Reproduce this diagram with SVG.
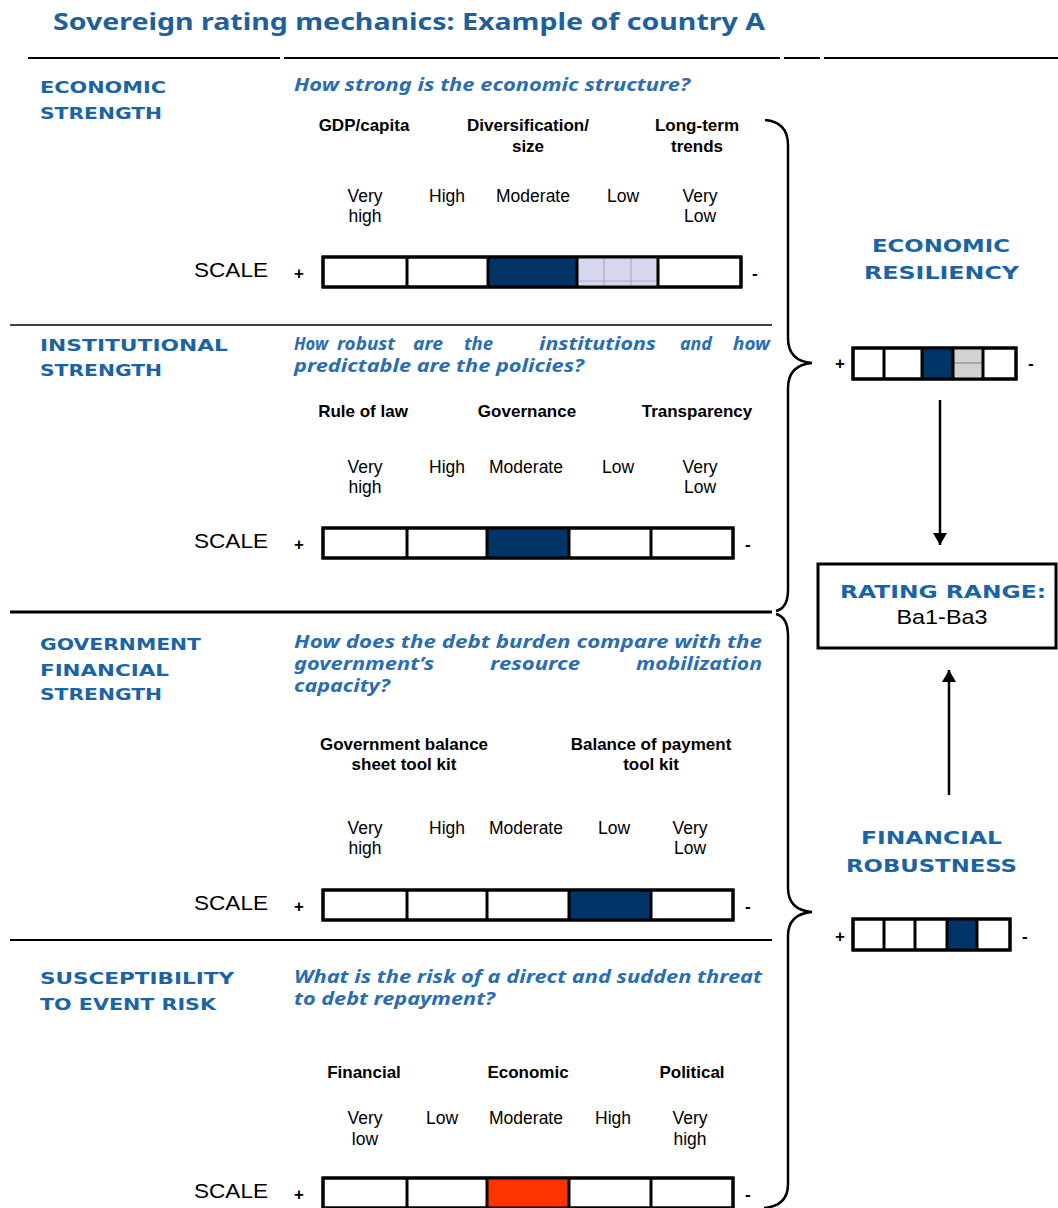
<svg xmlns="http://www.w3.org/2000/svg" width="1058" height="1208" viewBox="0 0 1058 1208">
<style>
.title{font-family:"Noto Sans","DejaVu Sans",sans-serif;font-weight:700;font-size:24px;fill:#1f5f9c}
.sec{font-family:"DejaVu Sans",Verdana,sans-serif;font-weight:700;font-size:16.5px;fill:#1a64a6}
.rsec{font-family:"DejaVu Sans",Verdana,sans-serif;font-weight:700;font-size:18.5px;fill:#1a64a6}
.q{font-family:"Noto Sans","Open Sans",sans-serif;font-weight:700;font-style:italic;font-size:18px;fill:#2a6db0}
.crit{font-family:"Liberation Sans",Arial,sans-serif;font-weight:700;font-size:17px;fill:#000;text-anchor:middle}
.lvl{font-family:"Liberation Sans",Arial,sans-serif;font-size:17.5px;fill:#000;text-anchor:middle}
.scale{font-family:"Liberation Sans",Arial,sans-serif;font-size:21px;fill:#000}
.pm{font-family:"Liberation Sans",Arial,sans-serif;font-weight:700;font-size:17px;fill:#000}
.bar{fill:#fff;stroke:#000;stroke-width:3}
.div{stroke:#000;stroke-width:3}
.navy{fill:#003366}
.rule{stroke:#000;fill:none}
.brace{fill:none;stroke:#000;stroke-width:2.5}
.conn{stroke:#000;stroke-width:2.5;fill:none}
.ba{font-family:"Liberation Sans",Arial,sans-serif;font-size:21px;fill:#000;text-anchor:middle}
</style>
<defs>
<marker id="ah" viewBox="0 0 12 14" refX="12" refY="7" markerWidth="12" markerHeight="14" markerUnits="userSpaceOnUse" orient="auto">
<path d="M0,0 L12,7 L0,14 Z" fill="#000"/>
</marker>
</defs>

<g id="title">
<text class="title" x="53" y="30" textLength="712" lengthAdjust="spacingAndGlyphs">Sovereign rating mechanics: Example of country A</text>
</g>

<g id="rules">
<line class="rule" stroke-width="2" x1="28" y1="58" x2="280" y2="58"/>
<line class="rule" stroke-width="2" x1="284" y1="58" x2="780" y2="58"/>
<line class="rule" stroke-width="2" x1="784" y1="58" x2="820" y2="58"/>
<line class="rule" stroke-width="2" x1="824" y1="58" x2="1058" y2="58"/>
<line class="rule" stroke-width="1.5" x1="10" y1="325" x2="772" y2="325"/>
<line class="rule" stroke-width="3" x1="10" y1="612" x2="772" y2="612"/>
<line class="rule" stroke-width="2" x1="10" y1="940" x2="772" y2="940"/>
</g>

<!-- Section 1 -->
<g id="economic-strength">
<text class="sec" x="40" y="93" textLength="126" lengthAdjust="spacingAndGlyphs">ECONOMIC</text>
<text class="sec" x="40" y="119" textLength="122" lengthAdjust="spacingAndGlyphs">STRENGTH</text>
<text class="q" x="294" y="91" textLength="396" lengthAdjust="spacingAndGlyphs">How strong is the economic structure?</text>
<text class="crit" x="364" y="131">GDP/capita</text>
<text class="crit" x="528" y="131">Diversification/</text>
<text class="crit" x="528" y="152">size</text>
<text class="crit" x="697" y="131">Long-term</text>
<text class="crit" x="697" y="152">trends</text>
<text class="lvl" x="365" y="202">Very</text><text class="lvl" x="365" y="222">high</text>
<text class="lvl" x="447" y="202">High</text>
<text class="lvl" x="533" y="202">Moderate</text>
<text class="lvl" x="623" y="202">Low</text>
<text class="lvl" x="700" y="202">Very</text><text class="lvl" x="700" y="222">Low</text>
<text class="scale" x="194" y="277" textLength="74" lengthAdjust="spacingAndGlyphs">SCALE</text>
<text class="pm" x="294" y="279">+</text>
<rect class="bar" x="323" y="257" width="418" height="30"/>
<rect class="navy" x="488" y="257" width="89" height="30"/>
<rect x="577" y="257" width="81" height="30" fill="#d6d6ec"/>
<g stroke="#a9a9d6" stroke-width="1.2">
<line x1="604" y1="258" x2="604" y2="286"/>
<line x1="631" y1="258" x2="631" y2="286"/>
<line x1="578" y1="281" x2="657" y2="281"/>
</g>
<rect x="323" y="257" width="418" height="30" fill="none" stroke="#000" stroke-width="3"/>
<line class="div" x1="407" y1="257" x2="407" y2="287"/>
<line class="div" x1="488" y1="257" x2="488" y2="287"/>
<line class="div" x1="577" y1="257" x2="577" y2="287"/>
<line class="div" x1="658" y1="257" x2="658" y2="287"/>
<text class="pm" x="752" y="279">-</text>
</g>

<!-- Section 2 -->
<g id="institutional-strength">
<text class="sec" x="40" y="351" textLength="188" lengthAdjust="spacingAndGlyphs">INSTITUTIONAL</text>
<text class="sec" x="40" y="376" textLength="122" lengthAdjust="spacingAndGlyphs">STRENGTH</text>
<text class="q" x="294" y="350" textLength="34" lengthAdjust="spacingAndGlyphs">How</text>
<text class="q" x="337" y="350" textLength="58" lengthAdjust="spacingAndGlyphs">robust</text>
<text class="q" x="413" y="350" textLength="30" lengthAdjust="spacingAndGlyphs">are</text>
<text class="q" x="464" y="350" textLength="29" lengthAdjust="spacingAndGlyphs">the</text>
<text class="q" x="539" y="350" textLength="117" lengthAdjust="spacingAndGlyphs">institutions</text>
<text class="q" x="680" y="350" textLength="32" lengthAdjust="spacingAndGlyphs">and</text>
<text class="q" x="733" y="350" textLength="37" lengthAdjust="spacingAndGlyphs">how</text>
<text class="q" x="294" y="372" textLength="290" lengthAdjust="spacingAndGlyphs">predictable are the policies?</text>
<text class="crit" x="363" y="417">Rule of law</text>
<text class="crit" x="527" y="417">Governance</text>
<text class="crit" x="697" y="417">Transparency</text>
<text class="lvl" x="365" y="473">Very</text><text class="lvl" x="365" y="493">high</text>
<text class="lvl" x="447" y="473">High</text>
<text class="lvl" x="526" y="473">Moderate</text>
<text class="lvl" x="618" y="473">Low</text>
<text class="lvl" x="700" y="473">Very</text><text class="lvl" x="700" y="493">Low</text>
<text class="scale" x="194" y="548" textLength="74" lengthAdjust="spacingAndGlyphs">SCALE</text>
<text class="pm" x="294" y="550">+</text>
<rect class="bar" x="323" y="528" width="410" height="30"/>
<rect class="navy" x="487" y="528" width="82" height="30"/>
<rect x="323" y="528" width="410" height="30" fill="none" stroke="#000" stroke-width="3"/>
<line class="div" x1="407" y1="528" x2="407" y2="558"/>
<line class="div" x1="487" y1="528" x2="487" y2="558"/>
<line class="div" x1="569" y1="528" x2="569" y2="558"/>
<line class="div" x1="651" y1="528" x2="651" y2="558"/>
<text class="pm" x="745" y="550">-</text>
</g>

<!-- Section 3 -->
<g id="government-financial-strength">
<text class="sec" x="40" y="650" textLength="161" lengthAdjust="spacingAndGlyphs">GOVERNMENT</text>
<text class="sec" x="40" y="676" textLength="129" lengthAdjust="spacingAndGlyphs">FINANCIAL</text>
<text class="sec" x="40" y="700" textLength="122" lengthAdjust="spacingAndGlyphs">STRENGTH</text>
<text class="q" x="294" y="648" textLength="468" lengthAdjust="spacingAndGlyphs">How does the debt burden compare with the</text>
<text class="q" x="294" y="670" textLength="140" lengthAdjust="spacingAndGlyphs">government’s</text>
<text class="q" x="490" y="670" textLength="90" lengthAdjust="spacingAndGlyphs">resource</text>
<text class="q" x="636" y="670" textLength="126" lengthAdjust="spacingAndGlyphs">mobilization</text>
<text class="q" x="294" y="692" textLength="96" lengthAdjust="spacingAndGlyphs">capacity?</text>
<text class="crit" x="404" y="750">Government balance</text>
<text class="crit" x="404" y="770">sheet tool kit</text>
<text class="crit" x="651" y="750">Balance of payment</text>
<text class="crit" x="651" y="770">tool kit</text>
<text class="lvl" x="365" y="834">Very</text><text class="lvl" x="365" y="854">high</text>
<text class="lvl" x="447" y="834">High</text>
<text class="lvl" x="526" y="834">Moderate</text>
<text class="lvl" x="614" y="834">Low</text>
<text class="lvl" x="690" y="834">Very</text><text class="lvl" x="690" y="854">Low</text>
<text class="scale" x="194" y="910" textLength="74" lengthAdjust="spacingAndGlyphs">SCALE</text>
<text class="pm" x="294" y="912">+</text>
<rect class="bar" x="323" y="890" width="410" height="30"/>
<rect class="navy" x="569" y="890" width="82" height="30"/>
<rect x="323" y="890" width="410" height="30" fill="none" stroke="#000" stroke-width="3"/>
<line class="div" x1="407" y1="890" x2="407" y2="920"/>
<line class="div" x1="487" y1="890" x2="487" y2="920"/>
<line class="div" x1="569" y1="890" x2="569" y2="920"/>
<line class="div" x1="651" y1="890" x2="651" y2="920"/>
<text class="pm" x="745" y="912">-</text>
</g>

<!-- Section 4 -->
<g id="event-risk">
<text class="sec" x="40" y="984" textLength="194" lengthAdjust="spacingAndGlyphs">SUSCEPTIBILITY</text>
<text class="sec" x="40" y="1010" textLength="176" lengthAdjust="spacingAndGlyphs">TO EVENT RISK</text>
<text class="q" x="294" y="983" textLength="468" lengthAdjust="spacingAndGlyphs">What is the risk of a direct and sudden threat</text>
<text class="q" x="294" y="1005" textLength="201" lengthAdjust="spacingAndGlyphs">to debt repayment?</text>
<text class="crit" x="364" y="1078">Financial</text>
<text class="crit" x="528" y="1078">Economic</text>
<text class="crit" x="692" y="1078">Political</text>
<text class="lvl" x="365" y="1124">Very</text><text class="lvl" x="365" y="1145">low</text>
<text class="lvl" x="442" y="1124">Low</text>
<text class="lvl" x="526" y="1124">Moderate</text>
<text class="lvl" x="613" y="1124">High</text>
<text class="lvl" x="690" y="1124">Very</text><text class="lvl" x="690" y="1145">high</text>
<text class="scale" x="194" y="1198" textLength="74" lengthAdjust="spacingAndGlyphs">SCALE</text>
<text class="pm" x="294" y="1200">+</text>
<rect class="bar" x="323" y="1178" width="410" height="30"/>
<rect x="487" y="1178" width="82" height="30" fill="#ff3300"/>
<rect x="323" y="1178" width="410" height="30" fill="none" stroke="#000" stroke-width="3"/>
<line class="div" x1="407" y1="1178" x2="407" y2="1208"/>
<line class="div" x1="487" y1="1178" x2="487" y2="1208"/>
<line class="div" x1="569" y1="1178" x2="569" y2="1208"/>
<line class="div" x1="651" y1="1178" x2="651" y2="1208"/>
<text class="pm" x="745" y="1200">-</text>
</g>

<!-- Economic resiliency -->
<g id="economic-resiliency">
<text class="rsec" x="872" y="252" textLength="138" lengthAdjust="spacingAndGlyphs">ECONOMIC</text>
<text class="rsec" x="864" y="279" textLength="155" lengthAdjust="spacingAndGlyphs">RESILIENCY</text>
<text class="pm" x="835" y="369">+</text>
<rect class="bar" x="853" y="348" width="163" height="31"/>
<rect class="navy" x="922" y="348" width="31" height="31"/>
<rect x="953" y="348" width="30" height="31" fill="#d3d3d3"/>
<line x1="954" y1="363" x2="982" y2="363" stroke="#999" stroke-width="1.5"/>
<rect x="853" y="348" width="163" height="31" fill="none" stroke="#000" stroke-width="3"/>
<line class="div" x1="884" y1="348" x2="884" y2="379"/>
<line class="div" x1="922" y1="348" x2="922" y2="379"/>
<line class="div" x1="953" y1="348" x2="953" y2="379"/>
<line class="div" x1="983" y1="348" x2="983" y2="379"/>
<text class="pm" x="1028" y="369">-</text>
</g>

<!-- Rating range -->
<g id="rating-range">
<rect x="818" y="564" width="238" height="84" fill="#fff" stroke="#000" stroke-width="3"/>
<text class="rsec" x="840" y="598" textLength="206" lengthAdjust="spacingAndGlyphs">RATING RANGE:</text>
<text class="ba" x="942" y="624" textLength="91" lengthAdjust="spacingAndGlyphs">Ba1-Ba3</text>
</g>

<!-- Financial robustness -->
<g id="financial-robustness">
<text class="rsec" x="861" y="844" textLength="141" lengthAdjust="spacingAndGlyphs">FINANCIAL</text>
<text class="rsec" x="846" y="872" textLength="171" lengthAdjust="spacingAndGlyphs">ROBUSTNESS</text>
<text class="pm" x="835" y="942">+</text>
<rect class="bar" x="853" y="919" width="157" height="31"/>
<rect class="navy" x="947" y="919" width="30" height="31"/>
<rect x="853" y="919" width="157" height="31" fill="none" stroke="#000" stroke-width="3"/>
<line class="div" x1="884" y1="919" x2="884" y2="950"/>
<line class="div" x1="915" y1="919" x2="915" y2="950"/>
<line class="div" x1="947" y1="919" x2="947" y2="950"/>
<line class="div" x1="977" y1="919" x2="977" y2="950"/>
<text class="pm" x="1022" y="942">-</text>
</g>

<g id="connectors">
<path class="brace" d="M765,120 Q788,122 788,145 L788,338 Q788,361 812,363 Q788,365 788,388 L788,590 Q788,608 776,611"/>
<path class="brace" d="M776,614 Q788,617 788,636 L788,888 Q788,910 812,912 Q788,914 788,936 L788,1184 Q788,1206 764,1208"/>
<line class="conn" x1="940" y1="400" x2="940" y2="545" marker-end="url(#ah)"/>
<line class="conn" x1="949" y1="795" x2="949" y2="670" marker-end="url(#ah)"/>
</g>
</svg>
